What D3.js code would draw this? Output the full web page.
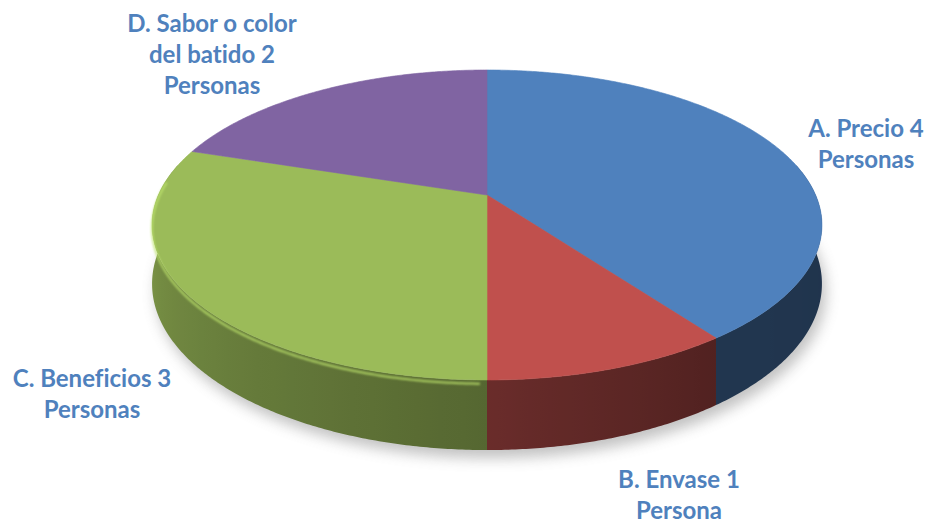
<!DOCTYPE html>
<html>
<head>
<meta charset="utf-8">
<script src="https://cdn.jsdelivr.net/npm/d3@7"></script>
<style>
  html, body { margin: 0; padding: 0; background: #ffffff; }
  svg { display: block; }
  text { font-variant-ligatures: none; font-feature-settings: "liga" 0; }
</style>
</head>
<body>
<svg id="chart" width="930" height="524"></svg>
<script>
// ---------- data ----------
const categories = ["A. Precio", "B. Envase", "C. Beneficios", "D. Sabor o color\ndel batido"];
const values = [4, 1, 3, 2];
const units = ["Personas", "Persona", "Personas", "Personas"];
const colors = ["#4F81BD", "#C0504D", "#9BBB59", "#8064A2"];

// ---------- layout ----------
const cx = 487, cy = 195;      // projected pie centre
const A = 328.6, B = 149.2;    // projected radii (horizontal / depth)
const k = 0.1935;              // perspective factor
const depth = 56.5;            // wall thickness
const labelPos = [
  {x: 866, y: 137}, {x: 679, y: 488}, {x: 92, y: 387}, {x: 212, y: 32}
];
const lineH = 31;

const svg = d3.select("#chart");
const defs = svg.append("defs");
defs.append("filter").attr("id", "shadowBlur")
  .attr("x", "-20%").attr("y", "-20%").attr("width", "140%").attr("height", "140%")
  .append("feGaussianBlur").attr("stdDeviation", 7);
defs.append("filter").attr("id", "rimBlur")
  .append("feGaussianBlur").attr("stdDeviation", 1.2);

function proj(theta, r = 1, drop = 0) {
  const x = r * Math.sin(theta), z = -r * Math.cos(theta);
  const w = 1 - k * z;
  return [cx + A * x / w, cy + (B * z + drop) / w];
}

const pie = d3.pie().sort(null).value(d => d.v).startAngle(0).endAngle(2 * Math.PI);
const arcs = pie(values.map((v, i) => ({v, i})));
const line = d3.line();
const rad = d => d * Math.PI / 180;

function arcPts(a0, a1, drop = 0, step = Math.PI / 360) {
  const n = Math.max(2, Math.ceil((a1 - a0) / step));
  return d3.range(n + 1).map(j => proj(a0 + (a1 - a0) * j / n, 1, drop));
}

// ---------- shadow ----------
const full = arcPts(0, 2 * Math.PI, depth);
svg.append("g").attr("filter", "url(#shadowBlur)").attr("opacity", 0.45)
  .attr("transform", "translate(4,8)")
  .append("path").attr("d", line(full) + "Z").attr("fill", "#777");

// ---------- walls ----------
const shade = d3.scaleLinear()
  .domain([90, 144, 180, 225, 270].map(rad))
  .range([0.40, 0.42, 0.55, 0.68, 0.82]).clamp(true);
const vis0 = rad(78), vis1 = rad(282);
const sil0 = Math.PI - Math.acos(k), sil1 = Math.PI + Math.acos(k); // silhouette angles
const walls = svg.append("g");
arcs.forEach(a => {
  const s = Math.max(a.startAngle, vis0), e = Math.min(a.endAngle, vis1);
  if (e <= s) return;
  const base = d3.rgb(colors[a.index]);
  const topPts = arcPts(s, e);
  const botPts = arcPts(s, e, depth).reverse();
  const gs = Math.max(s, sil0), ge = Math.min(e, sil1);
  const xs = topPts.map(p => p[0]);
  const x0 = d3.min(xs) - 1, x1 = d3.max(xs) + 1;
  const gid = "wall" + a.index;
  const g = defs.append("linearGradient").attr("id", gid)
    .attr("gradientUnits", "userSpaceOnUse")
    .attr("x1", x0).attr("x2", x1).attr("y1", 0).attr("y2", 0);
  const n = 24;
  const stops = d3.range(n + 1).map(j => {
    const t = gs + (ge - gs) * j / n;
    const f = shade(t);
    return {off: (proj(t)[0] - x0) / (x1 - x0), c: d3.rgb(base.r * f, base.g * f, base.b * f).formatHex()};
  }).sort((p, q) => p.off - q.off);
  stops.forEach(st => g.append("stop").attr("offset", Math.min(1, Math.max(0, st.off))).attr("stop-color", st.c));
  walls.append("path").attr("d", line(topPts.concat(botPts)) + "Z")
    .attr("fill", `url(#${gid})`);
});

// ---------- top faces ----------
const tops = svg.append("g");
arcs.forEach(a => {
  const pts = [proj(0, 0)].concat(arcPts(a.startAngle, a.endAngle));
  tops.append("path").attr("d", line(pts) + "Z").attr("fill", colors[a.index])
    .attr("stroke", colors[a.index]).attr("stroke-width", 0.6);
});

// rim highlight on front-left edge
const rim = svg.append("g").attr("filter", "url(#rimBlur)");
arcs.forEach(a => {
  const s = Math.max(a.startAngle, rad(181)), e = Math.min(a.endAngle, rad(276));
  if (e <= s) return;
  const c = d3.rgb(colors[a.index]).brighter(0.55);
  rim.append("path").attr("d", line(arcPts(s, e, 3)))
    .attr("fill", "none").attr("stroke", c).attr("stroke-width", 2).attr("opacity", 0.85);
});

// ---------- labels ----------
const labels = svg.append("g")
  .attr("font-family", "Lato, 'Liberation Sans', sans-serif")
  .attr("font-weight", "bold").attr("font-size", 24)
  .attr("fill", "#4F81BD").attr("text-anchor", "middle");
arcs.forEach(a => {
  const i = a.index;
  const parts = categories[i].split("\n");
  parts[parts.length - 1] += " " + values[i];
  parts.push(units[i]);
  const t = labels.append("text").attr("x", labelPos[i].x).attr("y", labelPos[i].y);
  parts.forEach((p, j) => {
    t.append("tspan").attr("x", labelPos[i].x).attr("dy", j === 0 ? 0 : lineH).text(p);
  });
});
</script>
</body>
</html>
